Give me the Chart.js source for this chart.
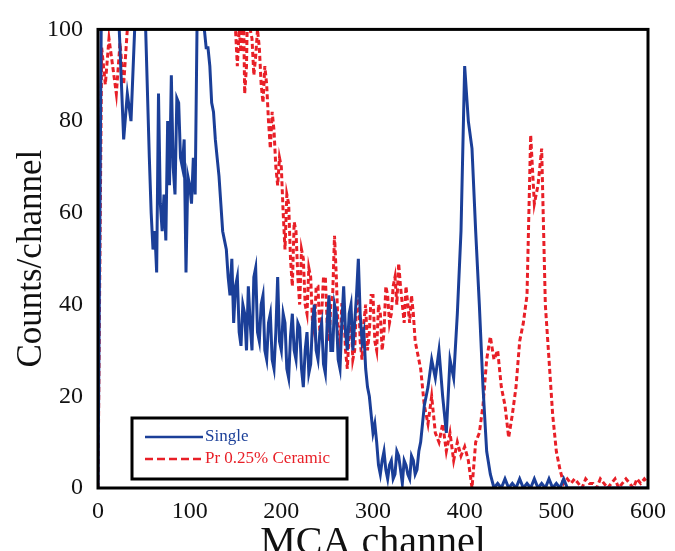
<!DOCTYPE html>
<html><head><meta charset="utf-8">
<script src="https://cdn.jsdelivr.net/npm/chart.js@4"></script>
<style>html,body{margin:0;padding:0;background:#fff;overflow:hidden}#wrap{width:675px;height:551px;position:relative}</style>
</head><body><div id="wrap"><canvas id="c" width="675" height="551"></canvas></div>
<script>
const channels = [
  0,4,8,12,16,20,24,28,32,36,40,44,48,52,
  56,58,60,62,64,66,68,70,72,74,
  76,78,80,82,84,86,88,90,92,94,
  96,98,100,102,104,106,108,110,112,114,
  116,118,120,122,124,126,128,130,132,134,
  136,138,
  140,142,144,146,148,150,152,154,156,158,
  160,162,164,166,168,170,172,174,176,178,
  180,182,184,186,188,190,192,194,196,198,
  200,202,204,206,208,210,212,214,216,218,
  220,222,224,226,228,230,232,234,236,238,
  240,242,244,246,248,250,252,254,256,258,
  260,262,264,266,268,270,272,274,276,278,
  280,282,284,286,288,290,292,294,296,298,
  300,302,304,306,308,310,312,314,316,318,
  320,322,324,326,328,330,332,334,336,338,
  340,342,344,346,348,350,352,354,356,358,
  360,
  364,368,372,376,380,384,388,392,396,
  400,404,408,412,416,420,424,428,432,436,
  440,444,448,452,456,460,464,468,472,476,
  480,484,488,492,496,500,504,508,512,516,
  520,524,528,532,536,540,544,548,552,556,
  560,564,568,572,576,580,584,588,592,596,
  600];
const singleCounts = [
  0,115,115,115,115,115,96,76,86,80,100,115,115,100,
  72,60,52,56,47,86,62,56,64,54,
  80,66,90,70,64,85,84,72,70,76,
  47,68,66,62,72,64,100,115,115,100,
  100,96,96,92,84,82,76,72,68,62,
  56,54,
  52,46,42,50,36,44,46,34,31,40,
  38,30,44,36,30,46,48,34,32,40,
  42,30,28,36,38,28,26,34,46,32,
  30,38,36,26,24,33,38,30,28,36,
  35,26,22,30,34,25,27,36,40,30,
  28,34,36,27,25,36,42,30,30,40,
  38,28,26,36,44,34,30,38,40,30,
  36,42,50,38,32,34,26,22,20,16,
  12,14,10,5,3,6,8,4,2,5,
  6,2,3,8,7,4,1,6,5,3,
  2,7,6,3,4,8,10,14,18,20,
  22,
  28,24,30,20,12,28,24,38,56,
  92,80,74,56,40,22,8,3,0,1,
  0,2,0,1,0,2,0,1,0,2,
  0,1,0,2,0,1,0,2,0,0,
  0,0,0,0,0,0,0,0,0,0,
  0,0,0,0,0,0,0,0,0,0,
  0];
const ceramicCounts = [
  0,96,88,98,92,86,97,88,100,115,115,115,115,115,
  115,115,115,115,115,115,115,115,115,115,
  115,115,115,115,115,115,115,115,115,115,
  115,115,115,115,115,115,115,115,115,115,
  115,115,115,115,115,115,115,115,115,115,
  115,115,
  115,115,115,115,115,100,92,100,95,115,
  86,92,115,100,98,90,94,100,96,88,
  84,92,88,80,74,82,78,70,66,72,
  70,60,52,64,62,50,44,58,56,46,
  40,52,50,40,38,48,46,36,34,44,
  44,34,38,46,46,36,32,40,42,55,
  46,34,30,40,40,30,26,34,38,28,
  30,40,44,32,28,36,40,30,34,42,
  42,32,30,40,38,30,34,44,42,36,
  38,44,46,40,49,44,40,36,44,40,
  36,42,38,32,30,28,26,22,18,16,
  14,
  20,12,10,14,8,12,6,10,7,
  9,6,0,10,12,18,28,33,28,30,
  22,18,11,16,22,32,36,42,77,62,
  66,74,40,28,16,8,4,1,2,1,
  2,1,0,2,1,1,0,2,1,0,
  1,2,0,1,2,1,0,2,1,2,
  1];
const xTickValues = [0,100,200,300,400,500,600];
const yTickValues = [0,20,40,60,80,100];
const seriesNames = ['Single', 'Pr 0.25% Ceramic'];
const xTitle = 'MCA channel';
const yTitle = 'Counts/channel';

const BLUE = '#1b3f98';
const RED = '#e81f27';
const SERIF = "'Liberation Serif', 'Times New Roman', serif";

const legendPlugin = {
  id: 'boxLegend',
  afterDatasetsDraw(chart) {
    const ctx = chart.ctx;
    const x0 = 132, y0 = 418, w = 215, h = 61;
    ctx.save();
    ctx.fillStyle = '#fff';
    ctx.fillRect(x0, y0, w, h);
    ctx.lineWidth = 3;
    ctx.strokeStyle = '#000';
    ctx.strokeRect(x0, y0, w, h);
    const items = [
      {label: seriesNames[0], color: BLUE, dash: [], y: 437},
      {label: seriesNames[1], color: RED, dash: [8, 4], y: 459}
    ];
    items.forEach(it => {
      ctx.beginPath();
      ctx.setLineDash(it.dash);
      ctx.strokeStyle = it.color;
      ctx.lineWidth = 2.5;
      ctx.moveTo(145, it.y);
      ctx.lineTo(203, it.y);
      ctx.stroke();
      ctx.setLineDash([]);
      ctx.fillStyle = it.color;
      ctx.font = '17px ' + SERIF;
      ctx.textBaseline = 'middle';
      ctx.textAlign = 'left';
      ctx.fillText(it.label, 205, it.y);
    });
    ctx.restore();
  }
};

const framePlugin = {
  id: 'frame',
  afterDraw(chart) {
    const {left, top, right, bottom} = chart.chartArea;
    const ctx = chart.ctx;
    ctx.save();
    ctx.lineWidth = 3;
    ctx.strokeStyle = '#000';
    ctx.strokeRect(left, top, right - left, bottom - top);
    ctx.restore();
  }
};

new Chart(document.getElementById('c'), {
  type: 'line',
  data: {
    datasets: [
      {
        label: seriesNames[0],
        data: channels.map((c, i) => ({x: c, y: singleCounts[i]})),
        borderColor: BLUE,
        borderWidth: 3,
        pointRadius: 0,
        tension: 0,
        fill: false
      },
      {
        label: seriesNames[1],
        data: channels.map((c, i) => ({x: c, y: ceramicCounts[i]})),
        borderColor: RED,
        borderWidth: 3,
        borderDash: [5, 3],
        pointRadius: 0,
        tension: 0,
        fill: false
      }
    ]
  },
  options: {
    responsive: false,
    animation: false,
    layout: {padding: {top: 27, right: 25, left: 0, bottom: 0}},
    plugins: {legend: {display: false}, tooltip: {enabled: false}},
    scales: {
      x: {
        type: 'linear', min: 0, max: 600,
        afterBuildTicks: s => { s.ticks = xTickValues.map(v => ({value: v})); },
        afterFit: s => { s.height = 63; },
        grid: {display: false, drawTicks: false},
        border: {display: false},
        ticks: {font: {family: SERIF, size: 24}, color: '#111', padding: 9, maxRotation: 0, autoSkip: false},
        title: {display: true, text: xTitle, font: {family: SERIF, size: 40, lineHeight: 1}, color: '#111', padding: {top: 0, bottom: -12}}
      },
      y: {
        min: 0, max: 100,
        afterBuildTicks: s => { s.ticks = yTickValues.map(v => ({value: v})); },
        afterFit: s => { s.width = 98; },
        grid: {display: false, drawTicks: false},
        border: {display: false},
        ticks: {font: {family: SERIF, size: 24}, color: '#111', padding: 15, autoSkip: false},
        title: {display: true, text: yTitle, font: {family: SERIF, size: 35, lineHeight: 1}, color: '#111', padding: {top: 14, bottom: 0}}
      }
    }
  },
  plugins: [legendPlugin, framePlugin]
});
</script>
</body></html>
